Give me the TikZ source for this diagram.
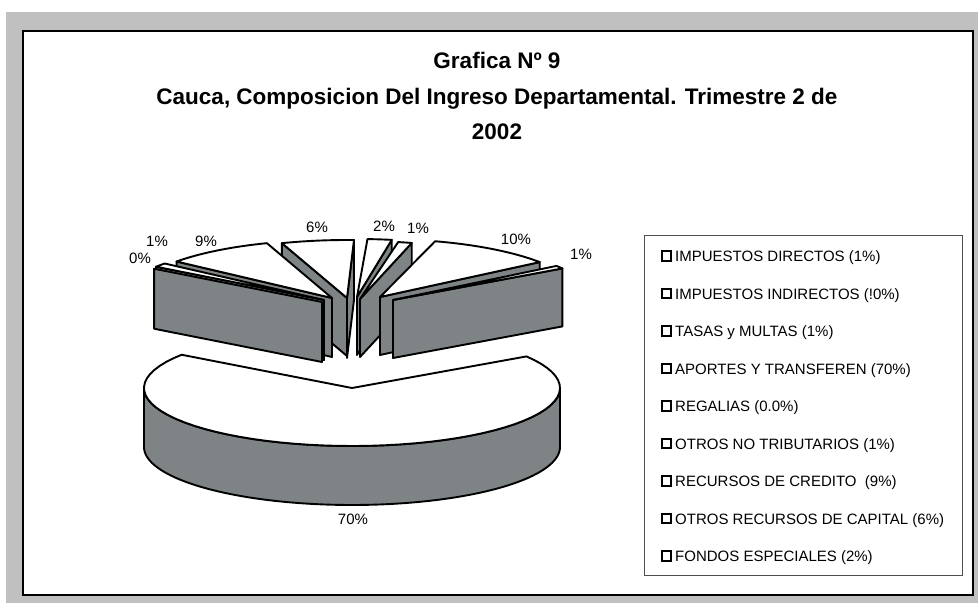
\documentclass[tikz,border=0pt]{standalone}
\usepackage{fontspec}
\setmainfont{Liberation Sans}
\definecolor{bgGray}{RGB}{192,192,192}
\definecolor{sideGray}{RGB}{126,131,134}
\definecolor{legLine}{RGB}{80,80,80}
\tikzset{
  topf/.style={fill=white, draw=black, line width=1.9pt, line join=round},
  sidef/.style={fill=sideGray, draw=black, line width=1.9pt, line join=round},
  pct/.style={font=\fontsize{15}{18}\selectfont, inner sep=0pt},
  legtext/.style={font=\fontsize{15}{18}\selectfont, anchor=base west, inner sep=0pt},
  legmark/.style={draw=black, fill=white, line width=1.6pt, minimum size=9.5pt, inner sep=0pt},
  ttl/.style={font=\bfseries\fontsize{22.5}{27}\selectfont, anchor=base, inner sep=0pt},
}
% top face of a slice: vx, vy, a, b, rx, ry
\newcommand{\slicetop}[6]{%
  \filldraw[topf] (#1,#2) -- plot[domain=#3:#4,samples=60] ({#1+#5*sin(\x)},{#2-#6*cos(\x)}) -- cycle;}
% radial wall: vx, vy, angle, rx, ry, h
\newcommand{\slicewall}[6]{%
  \filldraw[sidef] (#1,#2) -- ({#1+#4*sin(#3)},{#2-#5*cos(#3)}) -- ({#1+#4*sin(#3)},{#2-#5*cos(#3)+#6}) -- (#1,{#2+#6}) -- cycle;}
% outer curved wall: vx, vy, a, b, rx, ry, h
\newcommand{\slicerim}[7]{%
  \filldraw[sidef] plot[domain=#3:#4,samples=80] ({#1+#5*sin(\x)},{#2-#6*cos(\x)}) -- plot[domain=#4:#3,samples=80] ({#1+#5*sin(\x)},{#2-#6*cos(\x)+#7}) -- cycle;}
\begin{document}
\begin{tikzpicture}[x=1pt,y=-1pt]
\useasboundingbox (0,0) rectangle (978,603);
% frame
\fill[bgGray] (6,12) rectangle (978,603);
\filldraw[fill=white, draw=black, line width=1.5pt] (23,31) rectangle (973,595);
% title
\node[ttl] (t1) at (497,68) {Grafica Nº 9};
\node[ttl] (t2) at (497,104) {Cauca, Composicion Del Ingreso Departamental. Trimestre 2 de};
\node[ttl] (t3) at (497,139) {2002};
% --- pie slices, back to front ---
% 6% otros recursos de capital
\slicewall{347}{298}{341}{200}{58}{58}
\slicewall{347}{298}{362}{200}{58}{60}
\slicetop{347}{298}{341}{362}{200}{58}
% 2% fondos especiales
\slicewall{357}{297}{10}{200}{58}{58}
\slicetop{357}{297}{3}{10}{200}{58}
% 1% impuestos directos
\slicewall{360}{299}{15}{200}{58}{58}
\slicetop{360}{299}{11}{15}{200}{58}
% 10% impuestos indirectos
\slicewall{380}{297}{53}{200}{58}{58}
\slicetop{380}{297}{16}{53}{200}{58}
% 1% tasas y multas
\slicewall{393}{300}{57}{202}{58}{58}
\slicetop{393}{300}{54}{57}{202}{58}
% 9% recursos de credito
\slicewall{332}{298}{309}{200}{58}{59}
\slicetop{332}{298}{309}{341}{200}{58}
% 1% otros no tributarios
\slicewall{324}{300}{305}{205}{58}{60}
\slicetop{324}{300}{305}{309}{205}{58}
% 0% regalias
\slicewall{322}{302}{305}{205}{58}{60}
% 70% aportes y transferencias
\slicerim{352}{388}{90}{270}{208}{58}{59}
\slicetop{352}{388}{57}{305}{208}{58}
% percentage labels
\node[pct] (p0) at (140,258) {0\%};
\node[pct] (p1a) at (157,241) {1\%};
\node[pct] (p9) at (206,241) {9\%};
\node[pct] (p6) at (317,227) {6\%};
\node[pct] (p2) at (384,226) {2\%};
\node[pct] (p1b) at (418,228) {1\%};
\node[pct] (p10) at (516,239) {10\%};
\node[pct] (p1c) at (581,254) {1\%};
\node[pct] (p70) at (353,519) {70\%};
% legend
\draw[legLine, line width=1pt] (644,235) rectangle (962,575);
\foreach \t [count=\i] in {IMPUESTOS DIRECTOS (1\%),IMPUESTOS INDIRECTOS (!0\%),TASAS y MULTAS (1\%),APORTES Y TRANSFEREN (70\%),REGALIAS (0.0\%),OTROS NO TRIBUTARIOS (1\%),RECURSOS DE CREDITO~ (9\%),OTROS RECURSOS DE CAPITAL (6\%),FONDOS ESPECIALES (2\%)}{
  \node[legmark] (m\i) at (666.5,{256+37.5*(\i-1)}) {};
  \node[legtext] (l\i) at (675,{261.5+37.5*(\i-1)}) {\t};
}
\end{tikzpicture}
\end{document}
